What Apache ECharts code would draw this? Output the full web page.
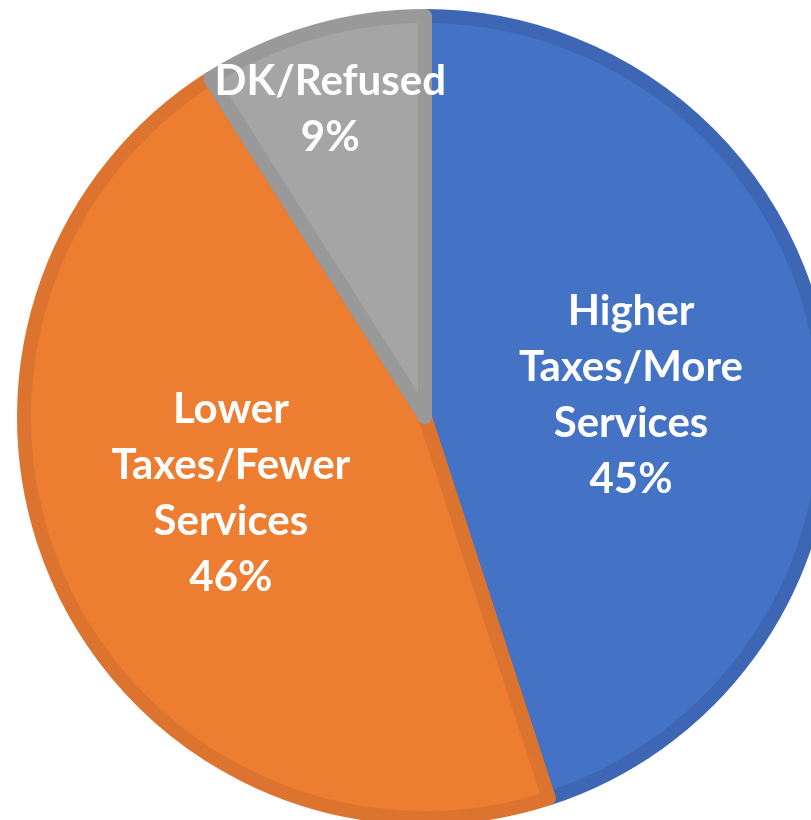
<!DOCTYPE html>
<html>
<head>
<meta charset="utf-8">
<script src="https://cdn.jsdelivr.net/npm/echarts@6/dist/echarts.min.js"></script>
<style>html,body{margin:0;padding:0;background:#fff;}#c{width:811px;height:820px;}</style>
</head>
<body>
<div id="c"></div>
<script>
const categories = ['Higher\nTaxes/More\nServices', 'Lower\nTaxes/Fewer\nServices', 'DK/Refused'];
const values = [45, 46, 9];
const colors = ['#4472C4', '#ED7D31', '#A5A5A5'];
const edgeColors = ['#3D67B4', '#DC7430', '#999999'];
const labelShift = [[5, 10], [-10, -10], [-38, -112]];

const chart = echarts.init(document.getElementById('c'));
chart.setOption({
  backgroundColor: '#ffffff',
  animation: false,
  series: [{
    type: 'pie',
    center: [425, 417],
    radius: [0, 401],
    startAngle: 90,
    clockwise: true,
    data: categories.map((n, i) => ({
      name: n, value: values[i],
      itemStyle: { color: colors[i], borderColor: edgeColors[i], borderWidth: 14, borderJoin: 'round' }
    })),
    label: {
      position: 'inside',
      formatter: '{b}\n{c}%',
      color: '#ffffff',
      fontFamily: 'Lato',
      fontWeight: 'bold',
      fontSize: 42,
      lineHeight: 56,
      align: 'center'
    },
    labelLine: { show: false },
    labelLayout: function (p) {
      const s = labelShift[p.dataIndex];
      return { dx: s[0], dy: s[1] };
    }
  }]
});
</script>
</body>
</html>
